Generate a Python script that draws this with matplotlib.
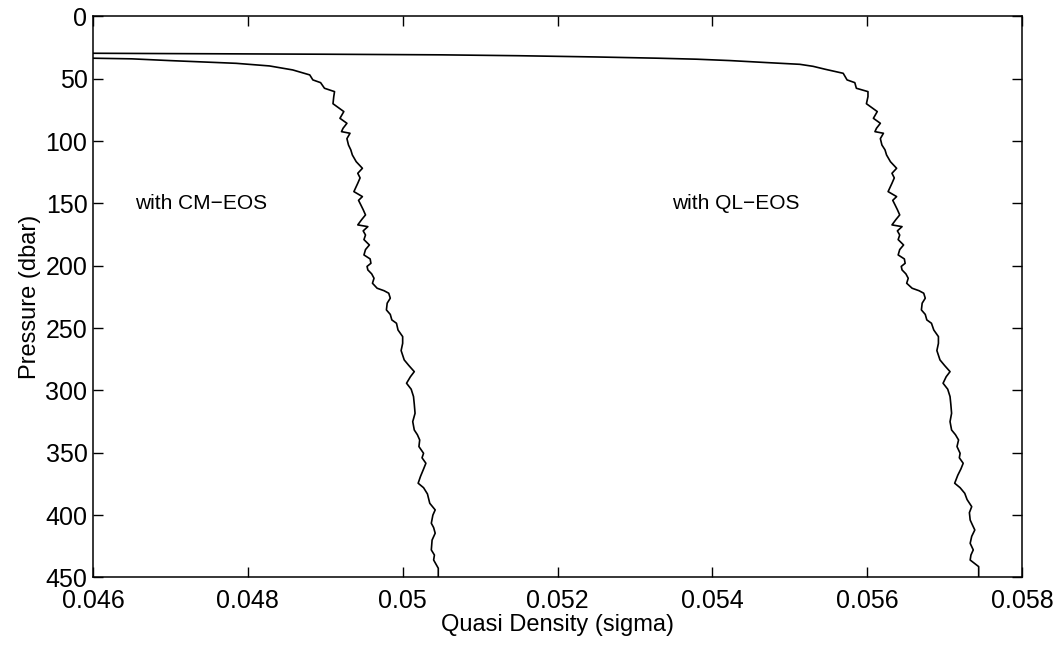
import matplotlib
matplotlib.use("Agg")
import matplotlib.pyplot as plt

plt.rcParams['font.family'] = ['Liberation Sans', 'DejaVu Sans']

# profile read with the QL equation of state: pressure (dbar), quasi density (sigma)
ql_p = [29.5, 29.8, 30.3, 30.8, 31.5, 32.5, 33.5, 34.3, 35.4, 37.0, 38.4, 40.0,
        42.4, 45.6, 50.9, 53.1, 57.6, 60.3, 64.3, 70.0, 76.3, 81.7, 85.7, 89.7,
        92.4, 93.7, 98.0, 103.1, 107.0, 111.1, 116.5, 121.8, 125.8, 129.5, 133.8,
        140.5, 144.5, 147.5, 151.2, 155.0, 159.2, 163.0, 167.2, 168.6, 172.0,
        175.3, 179.0, 183.3, 187.0, 191.3, 194.5, 198.0, 200.5, 203.3, 206.5,
        210.0, 214.0, 218.0, 220.0, 222.0, 226.0, 230.0, 235.4, 239.0, 243.4,
        246.1, 251.5, 256.8, 262.2, 268.0, 275.5, 280.0, 284.9, 289.0, 294.2,
        299.0, 304.9, 311.0, 318.3, 325.0, 331.7, 335.5, 339.7, 345.0, 350.4,
        354.0, 358.4, 363.0, 368.0, 374.4, 378.0, 382.5, 387.5, 393.2, 398.0,
        403.9, 408.0, 411.9, 417.0, 422.6, 427.9, 432.0, 436.0, 441.3, 451.0]
ql_d = [0.0459, 0.0470, 0.0490, 0.0505, 0.0515, 0.0525, 0.0533, 0.0538, 0.05423,
        0.05470, 0.05513, 0.05530, 0.05546, 0.05569, 0.05574, 0.05584, 0.05586,
        0.05601, 0.05601, 0.05599, 0.05613, 0.05608, 0.05617, 0.05612, 0.05610,
        0.05621, 0.05617, 0.05619, 0.05623, 0.05625, 0.05630, 0.05638, 0.05632,
        0.05635, 0.05632, 0.05627, 0.05638, 0.05633, 0.05636, 0.05639, 0.05642,
        0.05637, 0.05632, 0.05645, 0.05639, 0.05642, 0.05640, 0.05647, 0.05642,
        0.05640, 0.05648, 0.05649, 0.05644, 0.05645, 0.05650, 0.05653, 0.05651,
        0.05658, 0.05667, 0.05673, 0.05675, 0.05671, 0.05670, 0.05675, 0.05677,
        0.05683, 0.05686, 0.05692, 0.05692, 0.05690, 0.05694, 0.05700, 0.05707,
        0.05702, 0.05698, 0.05704, 0.05707, 0.05708, 0.05709, 0.05707, 0.05709,
        0.05714, 0.05718, 0.05716, 0.05720, 0.05719, 0.05724, 0.05721, 0.05717,
        0.05713, 0.05720, 0.05726, 0.05729, 0.05735, 0.05732, 0.05733, 0.05736,
        0.05739, 0.05735, 0.05733, 0.05737, 0.05734, 0.05733, 0.05744, 0.05744]

# same cast with the CM equation of state
cm_p = [33.4, 34.0, 35.4, 37.6, 39.7, 42.9, 46.9, 50.9, 53.1, 57.6, 60.3, 64.3,
        70.0, 76.3, 81.7, 85.7, 89.7, 92.4, 93.7, 98.0, 103.1, 107.0, 111.1,
        116.5, 121.8, 125.8, 129.5, 133.8, 140.5, 144.5, 147.5, 151.2, 155.0,
        159.2, 163.0, 167.2, 168.6, 172.0, 175.3, 179.0, 183.3, 187.0, 191.3,
        194.5, 198.0, 200.5, 203.3, 206.5, 210.0, 214.0, 218.0, 220.0, 222.0,
        226.0, 230.0, 235.4, 239.0, 243.4, 246.1, 251.5, 256.8, 262.2, 268.0,
        275.5, 280.0, 284.9, 289.0, 294.2, 299.0, 304.9, 311.0, 318.3, 325.0,
        331.7, 335.5, 339.7, 345.0, 350.4, 354.0, 358.4, 363.0, 369.0, 374.4,
        378.0, 383.0, 390.5, 395.8, 400.0, 406.5, 410.0, 414.5, 420.0, 427.9,
        432.0, 436.0, 442.6, 451.0]
cm_d = [0.0459, 0.0465, 0.04699, 0.04785, 0.04828, 0.04858, 0.04880, 0.04884,
        0.04894, 0.04899, 0.04912, 0.04911, 0.04910, 0.04924, 0.04919, 0.04928,
        0.04923, 0.04921, 0.04932, 0.04928, 0.04930, 0.04933, 0.04935, 0.04940,
        0.04948, 0.04942, 0.04945, 0.04942, 0.04937, 0.04948, 0.04943, 0.04946,
        0.04949, 0.04952, 0.04947, 0.04942, 0.04955, 0.04949, 0.04952, 0.04950,
        0.04957, 0.04952, 0.04950, 0.04958, 0.04959, 0.04954, 0.04955, 0.04960,
        0.04963, 0.04961, 0.04967, 0.04976, 0.04982, 0.04984, 0.04980, 0.04979,
        0.04984, 0.04986, 0.04992, 0.04994, 0.05000, 0.05000, 0.04998, 0.05002,
        0.05008, 0.05015, 0.05010, 0.05005, 0.05011, 0.05014, 0.05015, 0.05016,
        0.05013, 0.05015, 0.05019, 0.05022, 0.05021, 0.05027, 0.05025, 0.05030,
        0.05027, 0.05023, 0.05020, 0.05027, 0.05032, 0.05035, 0.05042, 0.05039,
        0.05037, 0.05040, 0.05042, 0.05038, 0.05037, 0.05041, 0.05040, 0.05046,
        0.05046]

xticks = [0.046, 0.048, 0.05, 0.052, 0.054, 0.056, 0.058]
yticks = [0, 50, 100, 150, 200, 250, 300, 350, 400, 450]

fig = plt.figure(figsize=(10.59, 6.45), dpi=100)
ax = fig.add_axes([0.0878, 0.1047, 0.8773, 0.8698])

ax.plot(ql_d, ql_p, color='black', lw=1.2)
ax.plot(cm_d, cm_p, color='black', lw=1.2)

ax.text(0.04654, 150, 'with CM\u2212EOS', fontsize=15, va='center', ha='left')
ax.text(0.05348, 150, 'with QL\u2212EOS', fontsize=15, va='center', ha='left')

ax.set_xlim(0.046, 0.058)
ax.set_ylim(450, 0)
ax.set_xticks(xticks)
ax.set_xticklabels([f'{v:g}' for v in xticks])
ax.set_yticks(yticks)
ax.tick_params(direction='in', top=True, right=True, length=7, width=1,
               labelsize=18, pad=4)
ax.tick_params(axis='x', pad=8)
for s in ax.spines.values():
    s.set_linewidth(1.1)

ax.set_xlabel('Quasi Density (sigma)', fontsize=17, labelpad=1)
ax.set_ylabel('Pressure (dbar)', fontsize=17, labelpad=3)

fig.savefig('out.png', dpi=100)
